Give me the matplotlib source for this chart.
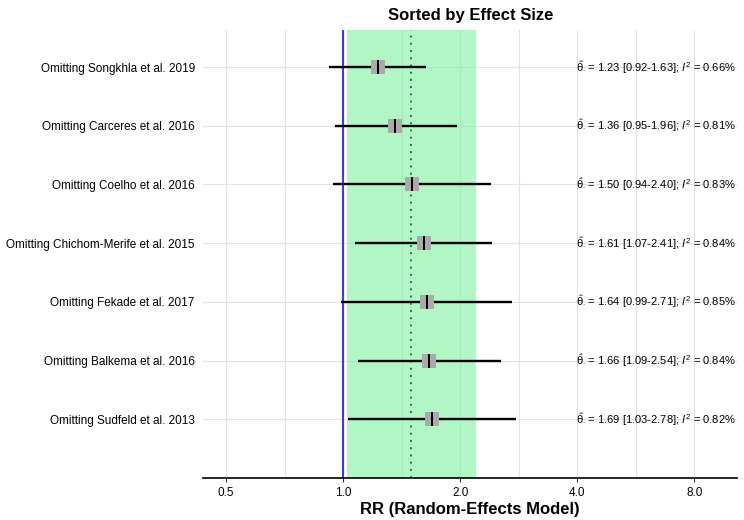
import matplotlib
matplotlib.use("Agg")
import matplotlib.pyplot as plt
import numpy as np

studies = ["Omitting Songkhla et al. 2019", "Omitting Carceres et al. 2016",
           "Omitting Coelho et al. 2016", "Omitting Chichom-Merife et al. 2015",
           "Omitting Fekade et al. 2017", "Omitting Balkema et al. 2016",
           "Omitting Sudfeld et al. 2013"]
est = [1.23, 1.36, 1.50, 1.61, 1.64, 1.66, 1.69]
lo = [0.92, 0.95, 0.94, 1.07, 0.99, 1.09, 1.03]
hi = [1.63, 1.96, 2.40, 2.41, 2.71, 2.54, 2.78]
i2 = [0.66, 0.81, 0.83, 0.84, 0.85, 0.84, 0.82]
pooled = 1.49
pooled_lo = 1.02
pooled_hi = 2.19
xticks = [0.5, 1.0, 2.0, 4.0, 8.0]

plt.rcParams['font.family'] = ['Liberation Sans', 'DejaVu Sans']
plt.rcParams['mathtext.fontset'] = 'custom'
plt.rcParams['mathtext.rm'] = 'Liberation Sans'
plt.rcParams['mathtext.it'] = 'Liberation Sans:italic'

fig = plt.figure(figsize=(7.44, 5.2), dpi=100)
ax = fig.add_axes([0.273, 0.081, 0.718, 0.861])
ax.set_xscale('log')
ax.set_xlim(0.4363, 10.32)
n = len(studies)
ypos = np.arange(n, 0, -1)
ax.set_ylim(0, n + 0.63)

# grid
minor = [0.5 * np.sqrt(2) * 2 ** k for k in range(-1, 5)]
for v in xticks + minor:
    ax.axvline(v, color='#e3e3e3', lw=0.8, zorder=0)
for y in ypos:
    ax.axhline(y, color='#e3e3e3', lw=0.8, zorder=0)

ax.axvspan(pooled_lo, pooled_hi, color='#7ff09f', alpha=0.6, lw=0, zorder=1)
ax.axvline(pooled, color='#1f5f2f', lw=1.3, ls=(0, (1, 3)), zorder=2)
ax.axvline(1.0, color='#3a3af5', lw=1.5, zorder=2)

ax.hlines(ypos, lo, hi, color='black', lw=1.7, zorder=3)
ax.scatter(est, ypos, marker='s', s=90, color='#aaaaaa', zorder=4, lw=0)
ax.scatter(est, ypos, marker='|', s=90, color='black', zorder=5, lw=1.4)

for y, e, l, h, q in zip(ypos, est, lo, hi, i2):
    ax.text(3.97, y, r'$\hat{\mathrm{\theta}}_{\cdot}$' + f' = {e:.2f} [{l:.2f}-{h:.2f}]; ' + r'$I^2$' + f' = {q:.2f}%',
            va='center', ha='left', fontsize=8.0, zorder=6)

ax.set_yticks(ypos)
ax.set_yticklabels(studies, fontsize=8.5)
ax.set_xticks(xticks)
ax.set_xticklabels([f'{v:.1f}' for v in xticks], fontsize=8.5)
ax.xaxis.set_minor_locator(matplotlib.ticker.NullLocator())
ax.tick_params(axis='y', length=0, pad=6)
ax.tick_params(axis='x', length=3, color='#333333')
for s in ['top', 'right', 'left']:
    ax.spines[s].set_visible(False)
ax.spines['bottom'].set_linewidth(1.2)
ax.set_xlabel('RR (Random-Effects Model)', fontsize=12, fontweight='bold', labelpad=2)
ax.set_title('Sorted by Effect Size', fontsize=12, fontweight='bold', pad=7)

fig.savefig('out.png', dpi=100)
